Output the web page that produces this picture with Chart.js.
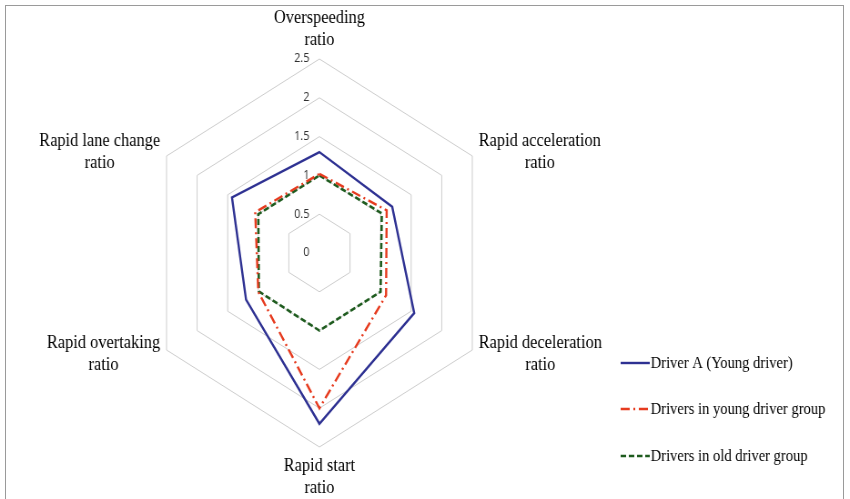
<!DOCTYPE html>
<html>
<head>
<meta charset="utf-8">
<title>Driving behaviour ratios</title>
<script src="https://cdn.jsdelivr.net/npm/chart.js@4.4.1/dist/chart.umd.min.js"></script>
<style>
  html, body { margin:0; padding:0; background:#fff; overflow:hidden; }
  body { width:850px; height:499px; position:relative; }
  /* the source picture is squeezed sideways, so the chart is drawn wide and squeezed back */
  #wrap { position:absolute; left:0; top:0; width:934px; height:499px; transform:scaleX(0.91); transform-origin:0 0; }
  #frame { position:absolute; left:5px; top:5px; width:837px; height:520px; border:1px solid #9a9a9a; pointer-events:none; }
</style>
</head>
<body>
<div id="wrap"><canvas id="radarChart"></canvas></div>
<div id="frame"></div>
<script>
/* ── Data ── */
const categories = [
  ['Overspeeding', 'ratio'],
  ['Rapid acceleration', 'ratio'],
  ['Rapid deceleration', 'ratio'],
  ['Rapid start', 'ratio'],
  ['Rapid overtaking', 'ratio'],
  ['Rapid lane change', 'ratio'],
];
const driverA    = [1.30, 1.19, 1.55, 2.20, 1.20, 1.43];
const youngGroup = [1.02, 1.10, 1.09, 2.00, 1.00, 1.05];
const oldGroup   = [1.00, 1.02, 1.00, 1.00, 0.99, 1.00];
const seriesNames = ['Driver A (Young driver)', 'Drivers in young driver group', 'Drivers in old driver group'];
const scaleMin = 0, scaleMax = 2.5, scaleStep = 0.5;

/* ── Labels, ticks and legend drawn from the scale ── */
const sketchLabels = {
  id: 'sketchLabels',
  afterDraw(chart) {
    const r = chart.scales.r;
    const ctx = chart.ctx;
    ctx.save();

    // tick labels sit just left of each ring's top vertex
    ctx.font = '12px "Open Sans"';
    ctx.fillStyle = '#2f2f2f';
    ctx.textAlign = 'right';
    ctx.textBaseline = 'middle';
    r.ticks.forEach(t => {
      const d = r.getDistanceFromCenterForValue(t.value);
      ctx.fillText(t.label, r.xCenter - 11, r.yCenter - d);
    });

    // category labels
    ctx.font = '18px "Liberation Serif"';
    ctx.fillStyle = '#000';
    ctx.textAlign = 'center';
    const lh = 22;
    categories.forEach((lines, i) => {
      const p = r.getPointPosition(i, r.drawingArea + 8);
      const w = Math.max(...lines.map(s => ctx.measureText(s).width));
      const h = lines.length * lh;
      const dx = p.x - r.xCenter;
      let cx, top;
      if (Math.abs(dx) < 1) {
        cx = p.x;
        top = p.y < r.yCenter ? p.y - h : p.y;
      } else {
        cx = dx > 0 ? p.x + w / 2 : p.x - w / 2;
        top = p.y - h / 2;
      }
      lines.forEach((s, k) => ctx.fillText(s, cx, top + lh / 2 + k * lh));
    });

    // legend
    const rows = [363, 409, 456];
    ctx.font = '16px "Liberation Serif"';
    ctx.textAlign = 'left';
    chart.data.datasets.forEach((ds, i) => {
      const y = rows[i];
      ctx.beginPath();
      ctx.setLineDash(ds.borderDash || []);
      ctx.strokeStyle = ds.borderColor;
      ctx.lineWidth = ds.borderWidth;
      ctx.moveTo(682, y);
      ctx.lineTo(714, y);
      ctx.stroke();
      ctx.setLineDash([]);
      ctx.fillStyle = '#000';
      ctx.fillText(ds.label, 715, y + 1);
    });
    ctx.restore();
  }
};

function buildRadar() {
  const ctx = document.getElementById('radarChart');
  new Chart(ctx, {
    type: 'radar',
    data: {
      labels: categories.map(l => l.join(' ')),
      datasets: [
        { label: seriesNames[0], data: driverA,    borderColor: '#2E3192', borderWidth: 2.4, borderDash: [],            fill: false },
        { label: seriesNames[1], data: youngGroup, borderColor: '#E63B1F', borderWidth: 2.4, borderDash: [10, 4, 2, 4], fill: false },
        { label: seriesNames[2], data: oldGroup,   borderColor: '#1E5B1E', borderWidth: 2.6, borderDash: [6, 3],        fill: false },
      ]
    },
    options: {
      responsive: true, maintainAspectRatio: false, animation: false,
      layout: { padding: { left: 157, right: 389, top: 10, bottom: 2 } },
      elements: { point: { radius: 0, hoverRadius: 0 }, line: { tension: 0 } },
      plugins: { legend: { display: false }, tooltip: { enabled: false } },
      scales: {
        r: {
          min: scaleMin, max: scaleMax,
          ticks: { stepSize: scaleStep, display: false, callback: v => String(Math.round(v * 10) / 10) },
          grid: { color: '#cccccc', lineWidth: 1 },
          angleLines: { display: false },
          pointLabels: { display: false }
        }
      }
    },
    plugins: [sketchLabels]
  });
}

window.addEventListener('DOMContentLoaded', buildRadar);
</script>
</body>
</html>
